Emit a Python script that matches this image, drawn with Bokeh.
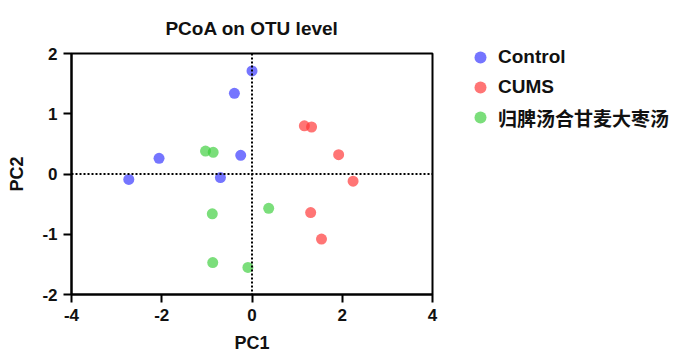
from bokeh.plotting import figure
from bokeh.models import Span, Legend, LegendItem, FixedTicker, Range1d, PrintfTickFormatter
from bokeh.embed import file_html
from bokeh.resources import INLINE

# Data
control_pc1 = [0.00, -0.39, -2.06, -0.25, -2.73, -0.70]
control_pc2 = [1.71, 1.34, 0.26, 0.31, -0.09, -0.06]
cums_pc1 = [1.16, 1.32, 1.92, 2.24, 1.30, 1.54]
cums_pc2 = [0.80, 0.78, 0.32, -0.12, -0.64, -1.08]
gp_pc1 = [-1.03, -0.86, -0.88, 0.37, -0.87, -0.09]
gp_pc2 = [0.38, 0.36, -0.66, -0.57, -1.47, -1.55]
group_names = ["Control", "CUMS", "归脾汤合甘麦大枣汤"]
x_ticks = [-4, -2, 0, 2, 4]
y_ticks = [-2, -1, 0, 1, 2]

FONT = "Liberation Sans"

p = figure(frame_width=361, frame_height=241, output_backend="svg", toolbar_location=None,
           x_range=Range1d(-4, 4), y_range=Range1d(-2, 2),
           min_border_left=71, min_border_right=250, min_border_top=53, min_border_bottom=63)
p.background_fill_color = "white"
p.border_fill_color = "white"
p.grid.visible = False
p.outline_line_color = "black"
p.outline_line_width = 2

p.title.text = "PCoA on OTU level"
p.title.align = "center"
p.title.text_font = FONT
p.title.text_font_size = "19px"
p.title.text_font_style = "bold"
p.title.text_color = "#111111"
p.title.standoff = 30

for ax in (p.xaxis[0], p.yaxis[0]):
    ax.axis_line_width = 2
    ax.major_tick_line_width = 2
    ax.major_tick_out = 8
    ax.major_tick_in = 0
    ax.minor_tick_line_color = None
    ax.major_label_standoff = 6
    ax.major_label_text_font = FONT
    ax.major_label_text_font_style = "bold"
    ax.major_label_text_font_size = "17px"
    ax.major_label_text_color = "#111111"
    ax.axis_label_text_font = FONT
    ax.axis_label_text_font_style = "bold"
    ax.axis_label_text_font_size = "18px"
    ax.axis_label_text_color = "#111111"
    ax.formatter = PrintfTickFormatter(format="%d")

p.xaxis[0].ticker = FixedTicker(ticks=x_ticks)
p.yaxis[0].ticker = FixedTicker(ticks=y_ticks)
p.xaxis[0].axis_label = "PC1"
p.yaxis[0].axis_label = "PC2"
p.xaxis[0].axis_label_standoff = 9
p.yaxis[0].axis_label_standoff = 12
p.yaxis[0].major_label_orientation = "horizontal"

p.add_layout(Span(location=0, dimension="width", line_color="black", line_width=2, line_dash="2 2"))
p.add_layout(Span(location=0, dimension="height", line_color="black", line_width=2, line_dash="2 2"))

colors = ["#3333ff", "#ff3333", "#3ccf3c"]
data = [(control_pc1, control_pc2), (cums_pc1, cums_pc2), (gp_pc1, gp_pc2)]
renderers = []
for (xs, ys), c in zip(data, colors):
    r = p.scatter(xs, ys, size=11, fill_color=c, fill_alpha=0.68, line_color=None)
    renderers.append(r)

legend = Legend(items=[LegendItem(label=n, renderers=[r]) for n, r in zip(group_names, renderers)],
                location=(30, 162))
legend.border_line_color = None
legend.background_fill_alpha = 0
legend.label_text_font = "Liberation Sans, 'Noto Sans CJK SC'"
legend.label_text_font_style = "bold"
legend.label_text_font_size = "19px"
legend.label_text_color = "#111111"
legend.glyph_width = 36
legend.glyph_height = 30
legend.spacing = 0
legend.label_standoff = 0
legend.padding = 0
legend.margin = 0
p.add_layout(legend, "right")

open("out.html", "w").write(file_html(p, INLINE))
